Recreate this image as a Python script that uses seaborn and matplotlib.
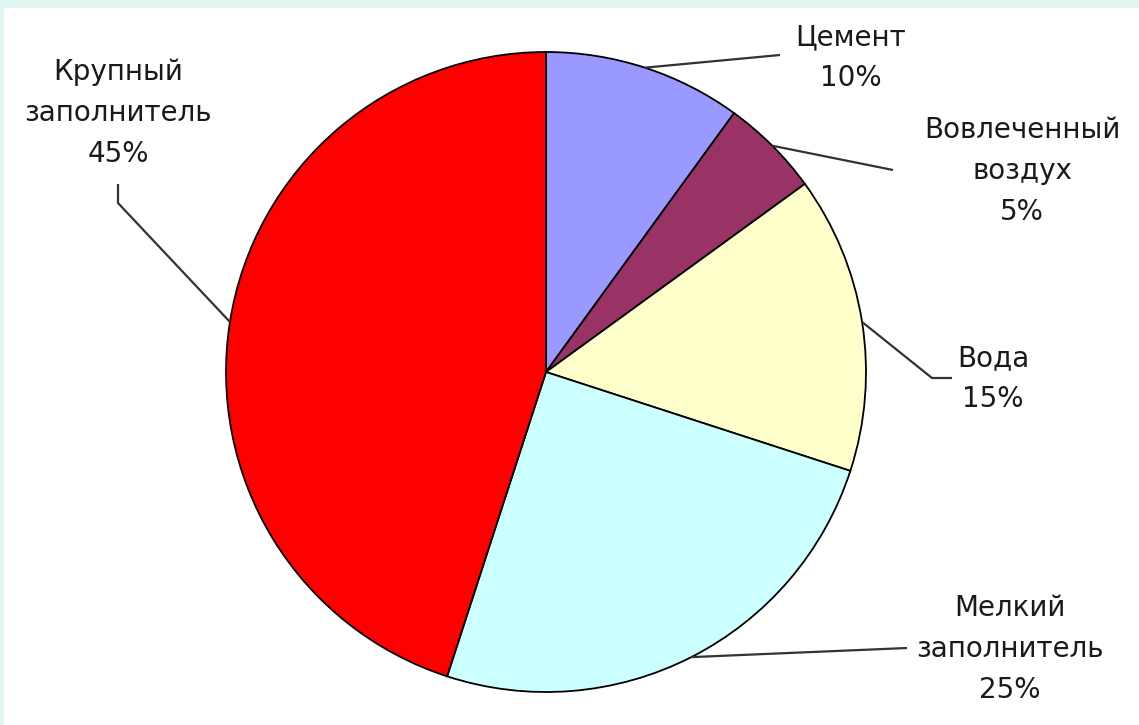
import numpy as np
import matplotlib
matplotlib.use("Agg")
import matplotlib.pyplot as plt
import seaborn as sns
from matplotlib.patches import Rectangle

# ---- data ----
categories = ["Цемент", "Вовлеченный\nвоздух", "Вода", "Мелкий\nзаполнитель", "Крупный\nзаполнитель"]
values = [10, 5, 15, 25, 45]
colors = ["#9999FF", "#993366", "#FFFFCC", "#CCFFFF", "#FF0000"]

# ---- layout (pixel positions of label centres and leader bends) ----
label_layout = [
    dict(text=(851, 58), path=[(780, 55)]),
    dict(text=(1022, 171), path=[(893, 170)]),
    dict(text=(993, 379), path=[(932, 378), (952, 378)]),
    dict(text=(1010, 649), path=[(907, 648)]),
    dict(text=(118, 113), path=[(118, 203), (118, 184)]),
]

sns.set_theme(style="white")
plt.rcParams['font.family'] = ['DejaVu Sans']

W, H = 1139, 725
fig = plt.figure(figsize=(W / 100, H / 100), dpi=100)
fig.patch.set_facecolor('white')
band = '#DFF5F1'
fig.patches.append(Rectangle((0, 1 - 8 / H), 1, 8 / H, transform=fig.transFigure,
                             facecolor=band, edgecolor='none', zorder=0))
fig.patches.append(Rectangle((0, 0), 4 / W, 1, transform=fig.transFigure,
                             facecolor=band, edgecolor='none', zorder=0))

cx, cy, R = 546, 372, 320
ax = fig.add_axes([(cx - R) / W, (H - cy - R) / H, 2 * R / W, 2 * R / H])
wedges, _ = ax.pie(values, colors=colors, startangle=90, counterclock=False, radius=1,
                   wedgeprops=dict(edgecolor='black', linewidth=1.3))
ax.set_xlim(-1, 1)
ax.set_ylim(-1, 1)
ax.set_aspect('equal')
ax.axis('off')


def px2d(p):
    return ((p[0] - cx) / R, (cy - p[1]) / R)


for w, cat, v, lay in zip(wedges, categories, values, label_layout):
    th = np.deg2rad((w.theta1 + w.theta2) / 2)
    pts = [(np.cos(th), np.sin(th))] + [px2d(p) for p in lay['path']]
    xs, ys = zip(*pts)
    ax.plot(xs, ys, color='#333333', lw=1.6, clip_on=False, solid_capstyle='butt')
    tx, ty = px2d(lay['text'])
    ax.text(tx, ty, f"{cat}\n{v}%", ha='center', va='center', multialignment='center',
            fontsize=20, color='#1a1a1a', linespacing=1.58, clip_on=False)

fig.savefig("out.png", dpi=100, facecolor=fig.get_facecolor())
